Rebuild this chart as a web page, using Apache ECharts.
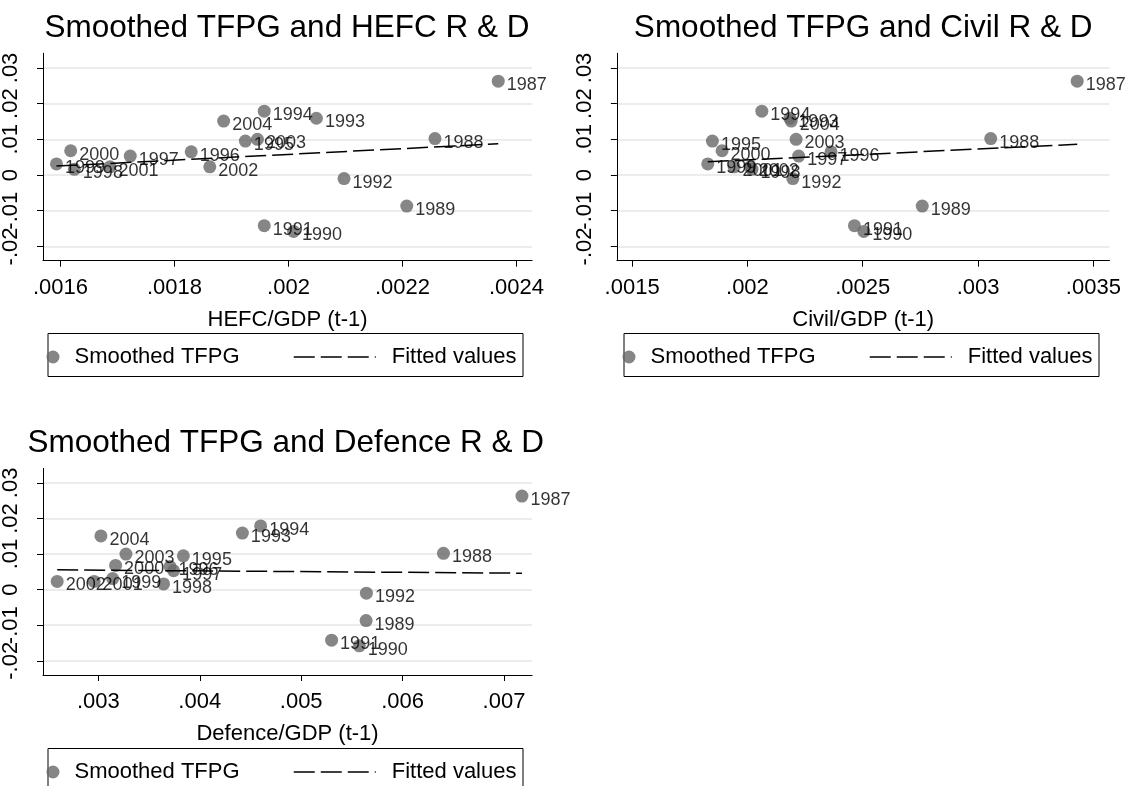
<!DOCTYPE html>
<html>
<head>
<meta charset="utf-8">
<script src="https://cdn.jsdelivr.net/npm/echarts@6/dist/echarts.min.js"></script>
<style>
  html, body { margin: 0; padding: 0; background: #ffffff; }
  #chart { width: 1125px; height: 786px; }
</style>
</head>
<body>
<div id="chart"></div>
<script>
// ---------------- data ----------------
const years = [1987, 1988, 1989, 1990, 1991, 1992, 1993, 1994, 1995, 1996, 1997, 1998, 1999, 2000, 2001, 2002, 2003, 2004];
const tfpg = [0.0263, 0.0102, -0.0087, -0.0158, -0.0142, -0.0010, 0.0159, 0.0179, 0.0095, 0.0065, 0.0053, 0.0016, 0.0031, 0.0068, 0.0023, 0.0023, 0.0100, 0.0151];
const hefcGdp = [0.002368, 0.002257, 0.0022075, 0.002009, 0.0019575, 0.0020975, 0.002049, 0.0019575, 0.0019244, 0.0018294, 0.0017225, 0.0016244, 0.001593, 0.001618, 0.001687, 0.001862, 0.0019456, 0.0018863];
const civilGdp = [0.00343, 0.003055, 0.002758, 0.0025047, 0.002464, 0.002197, 0.002184, 0.0020625, 0.001848, 0.0023625, 0.002222, 0.00202, 0.001828, 0.00189, 0.001942, 0.002012, 0.002211, 0.00219];
const defenceGdp = [0.007177, 0.006403, 0.00564, 0.005573, 0.0053, 0.005643, 0.00442, 0.0046, 0.003838, 0.003707, 0.003742, 0.003643, 0.003141, 0.00317, 0.002958, 0.002594, 0.003272, 0.003025];

// fitted values (end points of the fitted line)
const fitHefcX = [0.001593, 0.002368];
const fitHefcY = [0.0025, 0.00875];
const fitCivilX = [0.001828, 0.00343];
const fitCivilY = [0.0037, 0.0086];
const fitDefX = [0.002594, 0.007177];
const fitDefY = [0.00555, 0.00462];

// tick labels
const yTicks = [-0.02, -0.01, 0, 0.01, 0.02, 0.03];
const xTicksHefc = [0.0016, 0.0018, 0.002, 0.0022, 0.0024];
const xTicksCivil = [0.0015, 0.002, 0.0025, 0.003, 0.0035];
const xTicksDef = [0.003, 0.004, 0.005, 0.006, 0.007];

const titles = ['Smoothed TFPG and HEFC R & D', 'Smoothed TFPG and Civil R & D', 'Smoothed TFPG and Defence R & D'];
const xNames = ['HEFC/GDP (t-1)', 'Civil/GDP (t-1)', 'Defence/GDP (t-1)'];
const seriesNames = ['Smoothed TFPG', 'Fitted values'];

// ---------------- styling / layout ----------------
const FONT = "'Liberation Sans', Arial, Helvetica, sans-serif";
const MARKER = '#686868';
const INK = '#000000';
const DASH = [21, 6];
const Y_MIN = -0.024, Y_MAX = 0.0341;

function fmt(v) {
  if (Math.abs(v) < 1e-12) return '0';
  const s = String(+Number(v).toPrecision(6));
  return s.replace(/^(-?)0\./, '$1.');
}

const panels = [
  { grid: { left: 41.8, top: 53.3, width: 490.3, height: 207.4 }, xr: [0.0015694, 0.0024274], x: hefcGdp, xt: xTicksHefc, fx: fitHefcX, fy: fitHefcY, dx: 0, dy: 0 },
  { grid: { left: 616.9, top: 53.3, width: 492.6, height: 207.4 }, xr: [0.001434, 0.00357], x: civilGdp, xt: xTicksCivil, fx: fitCivilX, fy: fitCivilY, dx: 576, dy: 0 },
  { grid: { left: 39.3, top: 468.3, width: 492.8, height: 206.7 }, xr: [0.002454, 0.007277], x: defenceGdp, xt: xTicksDef, fx: fitDefX, fy: fitDefY, dx: 0, dy: 415 }
];

const grid = [], xAxis = [], yAxis = [], series = [], title = [], legend = [], graphic = [];

// y tick labels split over two overlaid axes so none of them gets auto-hidden
const yLabelsA = yTicks.filter((_, k) => k % 2 === 0);
const yLabelsB = yTicks.filter((_, k) => k % 2 === 1);

const yLabelStyle = {
  show: true, showMinLabel: true, showMaxLabel: true, hideOverlap: false,
  rotate: 90, margin: 21, formatter: fmt, fontFamily: FONT, fontSize: 22, color: INK
};

panels.forEach((p, i) => {
  grid.push(Object.assign({}, p.grid));
  const cx = p.grid.left + p.grid.width / 2;
  title.push({
    text: titles[i], left: cx, top: 12 + p.dy, textAlign: 'center', padding: 0,
    textStyle: { fontFamily: FONT, fontSize: 31.5, fontWeight: 'normal', color: INK }
  });
  xAxis.push({
    type: 'value', gridIndex: i, min: p.xr[0], max: p.xr[1],
    name: xNames[i], nameLocation: 'middle', nameGap: 48,
    nameTextStyle: { fontFamily: FONT, fontSize: 22, color: INK },
    axisLine: { show: true, onZero: false, lineStyle: { color: INK, width: 1 } },
    axisTick: { show: true, length: 6, customValues: p.xt, lineStyle: { color: INK, width: 1 } },
    axisLabel: { show: true, customValues: p.xt, margin: 16, showMinLabel: true, showMaxLabel: true, hideOverlap: false, formatter: fmt, fontFamily: FONT, fontSize: 22, color: INK },
    splitLine: { show: false }
  });
  // main y axis: line, ticks, grid lines, half of the labels
  yAxis.push({
    type: 'value', gridIndex: i, min: Y_MIN, max: Y_MAX, position: 'left',
    axisLine: { show: true, onZero: false, lineStyle: { color: INK, width: 1 } },
    axisTick: { show: true, length: 6, customValues: yTicks, lineStyle: { color: INK, width: 1 } },
    axisLabel: Object.assign({ customValues: yLabelsA }, yLabelStyle),
    splitLine: { show: true, lineStyle: { color: '#e6e6e6', width: 1.5 } }
  });
  // overlaid y axis: the other half of the labels
  yAxis.push({
    type: 'value', gridIndex: i, min: Y_MIN, max: Y_MAX, position: 'left', offset: 0,
    axisLine: { show: false, onZero: false },
    axisTick: { show: false, customValues: yLabelsB },
    axisLabel: Object.assign({ customValues: yLabelsB }, yLabelStyle),
    splitLine: { show: false }
  });
  series.push({
    name: seriesNames[0], type: 'scatter', xAxisIndex: i, yAxisIndex: 2 * i,
    symbol: 'circle', symbolSize: 13,
    itemStyle: { color: MARKER },
    data: years.map((yr, k) => [p.x[k], tfpg[k], yr]),
    label: {
      show: true, position: 'right', distance: 2, offset: [0, 4],
      formatter: (d) => String(d.data[2]),
      fontFamily: FONT, fontSize: 18, color: INK
    },
    z: 3
  });
  series.push({
    name: seriesNames[1], type: 'line', xAxisIndex: i, yAxisIndex: 2 * i,
    symbol: 'none', showSymbol: false,
    itemStyle: { color: INK },
    lineStyle: { color: INK, width: 1.5, type: DASH },
    data: p.fx.map((xv, k) => [xv, p.fy[k]]),
    z: 4
  });
  // legend box + two legends per panel
  graphic.push({
    type: 'rect', silent: true, z: 1,
    shape: { x: 48 + p.dx, y: 333.5 + p.dy, width: 475, height: 43 },
    style: { fill: 'none', stroke: INK, lineWidth: 1 }
  });
  legend.push({
    data: [{ name: seriesNames[0], icon: 'circle' }],
    left: 46.5 + p.dx, top: 346 + p.dy, padding: 0,
    itemWidth: 33, itemHeight: 13, selectedMode: false,
    textStyle: { fontFamily: FONT, fontSize: 22, color: INK }
  });
  legend.push({
    data: [{ name: seriesNames[1] }],
    left: 293 + p.dx, top: 346 + p.dy, padding: 0,
    itemWidth: 82, itemHeight: 13, selectedMode: false,
    itemStyle: { opacity: 0 },
    lineStyle: { color: INK, width: 1.5, type: DASH },
    textStyle: { fontFamily: FONT, fontSize: 22, color: INK, padding: [0, 0, 0, 11] }
  });
});

const chart = echarts.init(document.getElementById('chart'), null, { renderer: 'canvas' });
chart.setOption({
  animation: false,
  backgroundColor: '#ffffff',
  textStyle: { fontFamily: FONT },
  title, grid, xAxis, yAxis, series, legend, graphic
});
</script>
</body>
</html>
